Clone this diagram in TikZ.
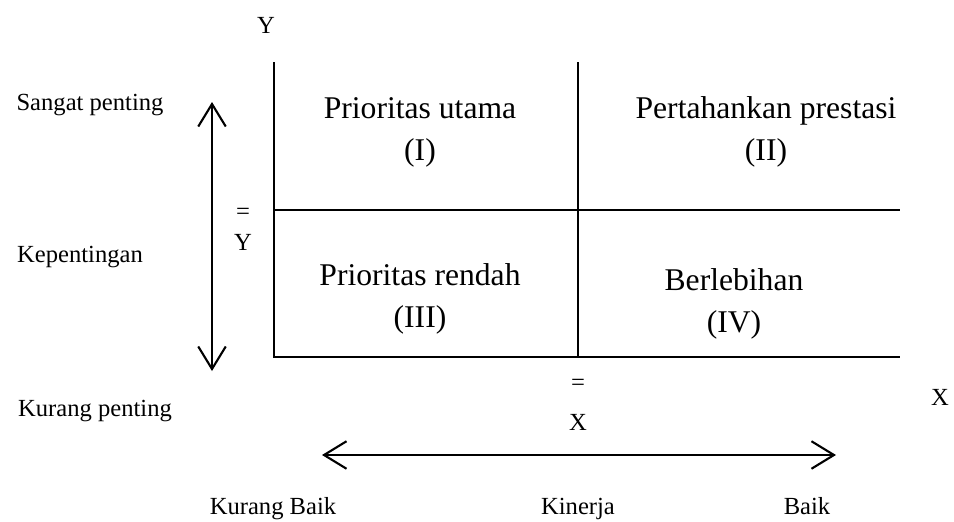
\documentclass[tikz,border=0pt]{standalone}
\usepackage{fontspec}
\setmainfont{Liberation Serif}
\usetikzlibrary{arrows.meta,positioning}

\begin{document}
\begin{tikzpicture}[
    x=0.02cm, y=-0.02cm,
    axislbl/.style={inner sep=0pt, anchor=base, font=\fontsize{14}{16}\selectfont},
    quadlbl/.style={inner sep=0pt, align=center, font=\fontsize{18}{24}\selectfont},
    grid/.style={line width=1.2pt},
    dblarrow/.style={line width=1.2pt, {Straight Barb[length=4.5mm,width=5.5mm,line width=1.2pt]}-{Straight Barb[length=4.5mm,width=5.5mm,line width=1.2pt]}},
]
\useasboundingbox (0,0) rectangle (954,521);

% grid corners
\coordinate (tl) at (274,62);
\coordinate (tm) at (578,62);
\coordinate (ml) at (274,210);
\coordinate (mr) at (900,210);
\coordinate (bl) at (274,357);
\coordinate (bm) at (578,357);
\coordinate (br) at (900,357);

\draw[grid] (tl) -- (bl) -- (br);
\draw[grid] (tm) -- (bm);
\draw[grid] (ml) -- (mr);

% quadrants
\node[quadlbl] (q1) at (420,132) {Prioritas utama\\(I)};
\node[quadlbl] (q2) at (766,132) {Pertahankan prestasi\\(II)};
\node[quadlbl] (q3) at (420,299) {Prioritas rendah\\(III)};
\node[quadlbl] (q4) at (734,304) {Berlebihan\\(IV)};

% axis labels
\node[axislbl] (ytop) at (266,33) {Y};
\node[axislbl] (xright) at (940,405) {X};
\node[axislbl] (ybareq) at (243,219) {=};
\node[axislbl] (ybar) at (243,250) {Y};
\node[axislbl] (xbareq) at (578,390) {=};
\node[axislbl] (xbar) at (578,430) {X};

\node[axislbl] (sangat) at (90,110) {Sangat penting};
\node[axislbl] (kepent) at (80,262) {Kepentingan};
\node[axislbl] (kurangp) at (95,416) {Kurang penting};

\node[axislbl] (kurangb) at (273,514) {Kurang Baik};
\node[axislbl] (kinerja) at (578,514) {Kinerja};
\node[axislbl] (baik) at (807,514) {Baik};

% arrows
\coordinate (yup) at (212,102);
\coordinate (ydown) at (212,371);
\coordinate (xleft) at (322,455);
\coordinate (xright2) at (836,455);
\draw[dblarrow] (ydown) -- (yup);
\draw[dblarrow] (xleft) -- (xright2);
\end{tikzpicture}
\end{document}
